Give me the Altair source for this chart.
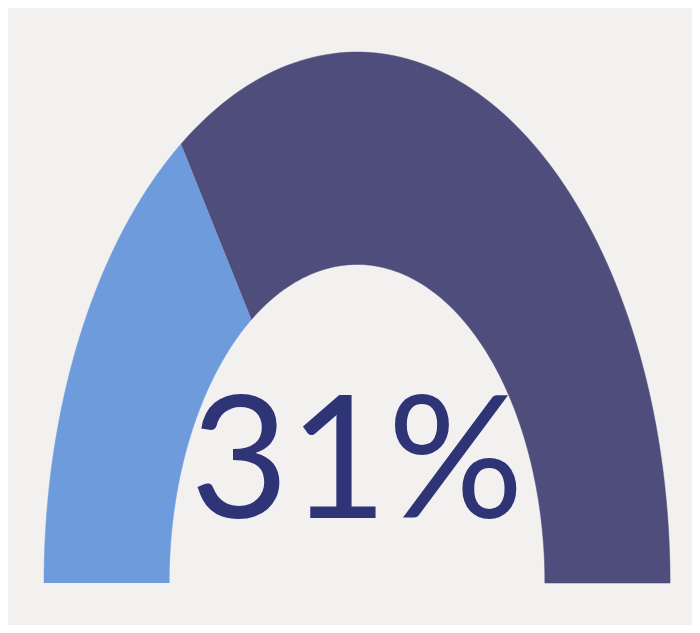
import altair as alt
import pandas as pd

# --- data ---
categories = ["Achieved", "Remaining"]
values = [31, 69]
order = [0, 1]
colors = ["#6e9bdc", "#4f4d7b"]

df = pd.DataFrame({"category": categories, "value": values, "order": order})
label_df = pd.DataFrame({"label": [f"{values[0]}%"]})

INNER = 0.6  # inner radius as a share of the outer radius
N = 100

x_scale = alt.Scale(domain=[-1.115, 1.070], nice=False, zero=False)
y_scale = alt.Scale(domain=[-0.079, 1.083], nice=False, zero=False)

arcs = (
    alt.Chart(df)
    .transform_joinaggregate(total="sum(value)")
    .transform_window(cum="sum(value)", sort=[alt.SortField("order")])
    .transform_calculate(
        start="(datum.cum - datum.value) / datum.total",
        end="datum.cum / datum.total",
        k=f"sequence(0, {2 * N + 2})",
    )
    .transform_flatten(["k"])
    .transform_calculate(
        t=f"datum.k <= {N} ? datum.k / {N} : ({2 * N + 1} - datum.k) / {N}",
        r=f"datum.k <= {N} ? 1 : {INNER}",
    )
    .transform_calculate(ang="PI * (1 - (datum.start + datum.t * (datum.end - datum.start)))")
    .transform_calculate(px="datum.r * cos(datum.ang)", py="datum.r * sin(datum.ang)")
    .mark_line(filled=True, strokeWidth=0.5, interpolate="linear")
    .encode(
        x=alt.X("px:Q", scale=x_scale, axis=None),
        y=alt.Y("py:Q", scale=y_scale, axis=None),
        order=alt.Order("k:Q"),
        detail="category:N",
        color=alt.Color(
            "category:N",
            scale=alt.Scale(domain=categories, range=colors),
            legend=None,
        ),
        stroke=alt.Stroke(
            "category:N",
            scale=alt.Scale(domain=categories, range=colors),
            legend=None,
        ),
    )
)

text = (
    alt.Chart(label_df)
    .mark_text(
        font="Lato",
        fontSize=170,
        fontWeight="normal",
        color="#2e3476",
        align="center",
        baseline="alphabetic",
    )
    .encode(
        x=alt.datum(0, type="quantitative", scale=x_scale),
        y=alt.datum(0.122, type="quantitative", scale=y_scale),
        text="label:N",
    )
)

chart = (
    alt.layer(arcs, text)
    .properties(width=684, height=617, padding=0, background="#f2f1ef")
    .configure_view(stroke=None)
)

chart.save("out.html", embed_options={"renderer": "svg", "actions": False})
